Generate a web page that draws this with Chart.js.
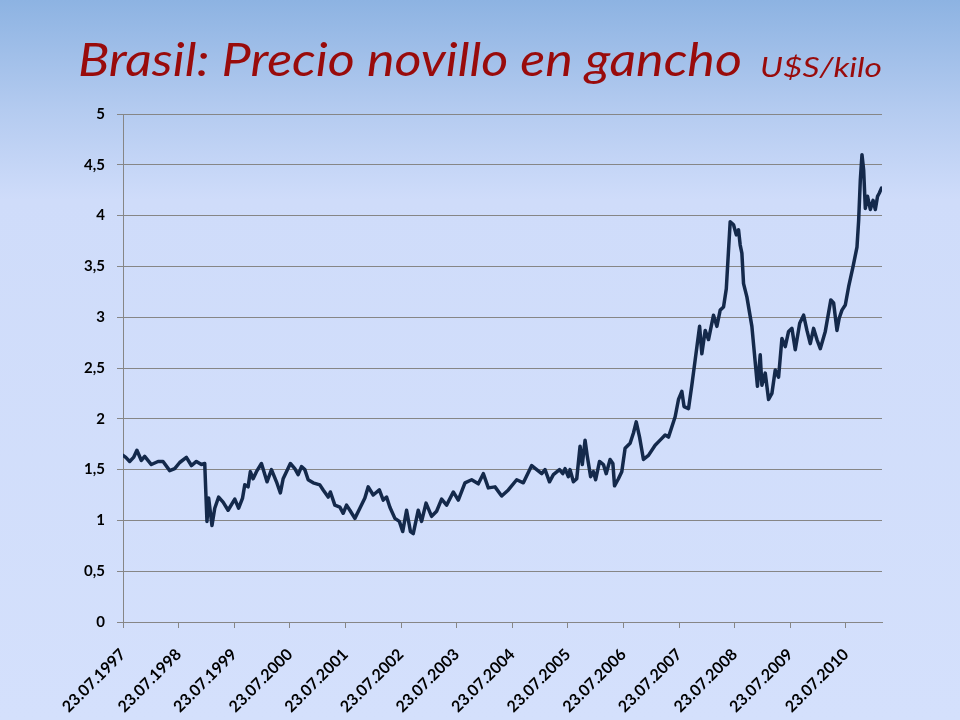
<!DOCTYPE html>
<html>
<head>
<meta charset="utf-8">
<script src="https://cdn.jsdelivr.net/npm/chart.js@4"></script>
<style>
  html, body { margin: 0; padding: 0; }
  body {
    width: 960px; height: 720px; overflow: hidden; position: relative;
    background: linear-gradient(to bottom, #8db3e2 0px, #b4cbf0 110px, #cfdcfa 200px, #d4e0fc 720px);
  }
  .ttl {
    position: absolute; white-space: nowrap; line-height: 1;
    font-family: Lato, "Open Sans", sans-serif; font-style: italic;
    color: #990b0b; transform-origin: 0 0; z-index: 2;
  }
  #tMain { left: 78px; top: 36px; font-size: 46px; }
  #tUnit { left: 760px; top: 53px; font-size: 27px; }
  canvas { position: absolute; left: 0; top: 0; }
</style>
</head>
<body>
<div id="title"><span id="tMain" class="ttl">Brasil: Precio novillo en gancho</span> <span id="tUnit" class="ttl">U$S/kilo</span></div>
<canvas id="c" width="960" height="720"></canvas>
<script>
// Years elapsed since 23.07.1997
const yearsSinceStart = [
  0.00,0.05,0.12,0.19,0.25,0.33,0.39,0.51,0.63,0.72,0.84,0.93,1.02,1.14,1.23,1.32,1.41,1.47,1.49,1.51,
  1.54,1.60,1.65,1.72,1.80,1.89,2.01,2.08,2.15,2.19,2.25,2.29,2.34,2.40,2.49,2.59,2.67,2.76,2.83,2.88,
  3.01,3.09,3.15,3.21,3.27,3.33,3.42,3.54,3.60,3.69,3.73,3.81,3.90,3.96,4.02,4.08,4.17,4.26,4.35,4.41,
  4.50,4.61,4.68,4.74,4.80,4.89,4.97,5.03,5.10,5.17,5.22,5.31,5.37,5.45,5.55,5.64,5.73,5.82,5.94,6.03,
  6.15,6.27,6.39,6.48,6.57,6.69,6.81,6.93,7.08,7.20,7.35,7.44,7.53,7.59,7.67,7.74,7.85,7.91,7.95,8.01,
  8.04,8.10,8.16,8.22,8.26,8.31,8.35,8.41,8.46,8.50,8.57,8.64,8.69,8.76,8.81,8.84,8.91,8.97,9.03,9.12,
  9.18,9.23,9.29,9.36,9.45,9.57,9.66,9.75,9.81,9.87,9.93,9.99,10.05,10.09,10.17,10.23,10.29,10.37,10.41,10.47,
  10.53,10.62,10.68,10.74,10.80,10.85,10.89,10.92,10.98,11.03,11.07,11.10,11.13,11.16,11.22,11.31,11.41,11.46,11.49,11.55,
  11.61,11.67,11.73,11.79,11.85,11.91,11.97,12.03,12.09,12.17,12.24,12.30,12.36,12.42,12.48,12.54,12.63,12.73,12.78,12.84,
  12.88,12.93,12.99,13.05,13.13,13.20,13.23,13.26,13.29,13.32,13.35,13.39,13.44,13.49,13.53,13.57,13.60,13.64
];
// Price, U$S per kilo
const priceUsdPerKilo = [
  1.64,1.62,1.58,1.62,1.69,1.59,1.63,1.55,1.58,1.58,1.49,1.51,1.57,1.62,1.54,1.58,1.55,1.56,1.27,0.99,
  1.22,0.95,1.12,1.23,1.18,1.10,1.21,1.12,1.22,1.35,1.33,1.48,1.41,1.48,1.56,1.38,1.50,1.38,1.27,1.41,
  1.56,1.51,1.45,1.53,1.50,1.40,1.37,1.35,1.30,1.23,1.28,1.15,1.13,1.07,1.15,1.10,1.02,1.12,1.22,1.33,
  1.25,1.30,1.20,1.23,1.13,1.02,0.99,0.89,1.10,0.89,0.87,1.10,0.99,1.17,1.04,1.09,1.21,1.15,1.28,1.20,
  1.37,1.40,1.36,1.46,1.32,1.33,1.24,1.30,1.40,1.37,1.54,1.50,1.46,1.50,1.38,1.45,1.50,1.46,1.51,1.43,
  1.50,1.38,1.41,1.73,1.55,1.79,1.63,1.43,1.48,1.40,1.58,1.55,1.46,1.60,1.56,1.34,1.41,1.48,1.71,1.76,
  1.86,1.97,1.82,1.60,1.64,1.74,1.79,1.84,1.82,1.92,2.02,2.19,2.27,2.12,2.10,2.33,2.58,2.91,2.64,2.87,
  2.78,3.02,2.91,3.07,3.10,3.28,3.66,3.94,3.91,3.81,3.86,3.71,3.63,3.33,3.20,2.91,2.32,2.63,2.33,2.45,
  2.19,2.25,2.48,2.41,2.79,2.71,2.86,2.89,2.68,2.94,3.02,2.87,2.74,2.89,2.78,2.69,2.86,3.17,3.14,2.87,
  2.99,3.07,3.12,3.30,3.50,3.69,3.95,4.35,4.60,4.45,4.07,4.19,4.06,4.15,4.06,4.19,4.22,4.27
];
const tickYears = [0,1,2,3,4,5,6,7,8,9,10,11,12,13];
const tickLabels = ['23.07.1997','23.07.1998','23.07.1999','23.07.2000','23.07.2001','23.07.2002','23.07.2003',
  '23.07.2004','23.07.2005','23.07.2006','23.07.2007','23.07.2008','23.07.2009','23.07.2010'];
const xMaxYears = 13.65;

// fit title pieces to their widths
function fitWidth(id, target) {
  const el = document.getElementById(id);
  const w = el.getBoundingClientRect().width;
  el.style.transform = 'scaleX(' + (target / w) + ')';
}
fitWidth('tMain', 664);
fitWidth('tUnit', 122);

const gridGray = '#868686';
new Chart(document.getElementById('c'), {
  type: 'line',
  data: {
    datasets: [{
      data: yearsSinceStart.map((x, i) => ({ x: x, y: priceUsdPerKilo[i] })),
      borderColor: '#14294b',
      borderWidth: 3.5,
      pointRadius: 0,
      tension: 0,
      borderJoinStyle: 'round',
      borderCapStyle: 'round',
      fill: false
    }]
  },
  options: {
    responsive: false,
    devicePixelRatio: 1,
    animation: false,
    layout: { padding: { left: 77, top: 114, right: 78, bottom: 0 } },
    plugins: { legend: { display: false }, tooltip: { enabled: false }, title: { display: false } },
    scales: {
      x: {
        type: 'linear', min: 0, max: xMaxYears,
        afterBuildTicks: s => { s.ticks = tickYears.map(v => ({ value: v })); },
        afterFit: s => { s.height = 98; },
        grid: { display: true, drawOnChartArea: false, drawTicks: true, tickLength: 6, color: gridGray },
        border: { display: true, color: gridGray, width: 1 },
        ticks: {
          autoSkip: false, maxRotation: 45, minRotation: 45, padding: 17,
          color: '#000', font: { family: 'Lato', weight: 'bold', size: 16 },
          callback: (v, i) => tickLabels[i]
        }
      },
      y: {
        min: 0, max: 5,
        afterFit: s => { s.width = 46; },
        grid: { color: gridGray, lineWidth: 1, drawTicks: true, tickLength: 6 },
        border: { display: true, color: gridGray, width: 1 },
        ticks: {
          stepSize: 0.5, padding: 12, color: '#000',
          font: { family: 'Lato', weight: 'bold', size: 15 },
          callback: v => String(v).replace('.', ',')
        }
      }
    }
  }
});
</script>
</body>
</html>
